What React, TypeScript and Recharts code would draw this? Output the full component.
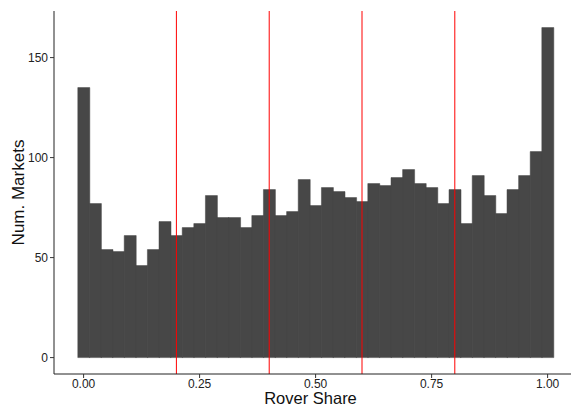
import React from 'react';
import { ComposedChart, Bar, XAxis, YAxis, ReferenceLine, Label } from 'recharts';

// histogram bins (width 0.025), centres and counts
const binCenters = [
  0, 0.025, 0.05, 0.075, 0.1, 0.125, 0.15, 0.175, 0.2, 0.225,
  0.25, 0.275, 0.3, 0.325, 0.35, 0.375, 0.4, 0.425, 0.45, 0.475,
  0.5, 0.525, 0.55, 0.575, 0.6, 0.625, 0.65, 0.675, 0.7, 0.725,
  0.75, 0.775, 0.8, 0.825, 0.85, 0.875, 0.9, 0.925, 0.95, 0.975, 1,
];
const marketCounts = [
  135, 77, 54, 53, 61, 46, 54, 68, 61, 65,
  67, 81, 70, 70, 65, 71, 84, 71, 73, 89,
  76, 85, 83, 80, 78, 87, 86, 90, 94, 87,
  85, 77, 84, 67, 91, 81, 72, 84, 91, 103, 165,
];
const cutoffs = [0.2, 0.4, 0.6, 0.8];
const xTicks = [0, 0.25, 0.5, 0.75, 1];
const yTicks = [0, 50, 100, 150];

const data = binCenters.map((share, i) => ({ share, count: marketCounts[i] }));

const font = '"Liberation Sans", Arial, sans-serif';
const tickStyle = { fill: '#222', fontSize: 12, fontFamily: font };

const App = () => {
  return (
    <div style={{ position: 'absolute', left: 0, top: 0 }}>
      <ComposedChart
        width={571}
        height={406}
        data={data}
        barCategoryGap={0}
        barGap={0}
        margin={{ top: 11, right: 0, left: 0, bottom: 0 }}
      >
        <XAxis
          dataKey="share"
          type="number"
          domain={[-0.0638, 1.0504]}
          allowDataOverflow
          ticks={xTicks}
          tickFormatter={(v: number) => v.toFixed(2)}
          tick={tickStyle}
          tickSize={4}
          tickMargin={1}
          stroke="#222"
          axisLine={{ stroke: '#222', strokeWidth: 1 }}
          tickLine={{ stroke: '#333' }}
          height={32}
        >
          <Label
            value="Rover Share"
            position="insideBottom"
            offset={2}
            dx={-2}
            style={{ fill: '#111', fontSize: 16.5, fontFamily: font }}
          />
        </XAxis>
        <YAxis
          type="number"
          domain={[-8.2, 173.3]}
          allowDataOverflow
          ticks={yTicks}
          tick={tickStyle}
          tickSize={4}
          stroke="#222"
          axisLine={{ stroke: '#222', strokeWidth: 1 }}
          tickLine={{ stroke: '#333' }}
          width={54}
        >
          <Label
            value="Num. Markets"
            angle={-90}
            position="center"
            dx={-9}
            style={{ fill: '#111', fontSize: 17, fontFamily: font, textAnchor: 'middle' }}
          />
        </YAxis>
        <Bar
          dataKey="count"
          fill="#474747"
          stroke="#474747"
          strokeWidth={0.5}
          isAnimationActive={false}
        />
        {cutoffs.map((c) => (
          <ReferenceLine key={c} x={c} stroke="#FF0000" strokeWidth={1} />
        ))}
      </ComposedChart>
    </div>
  );
};

export default App;
